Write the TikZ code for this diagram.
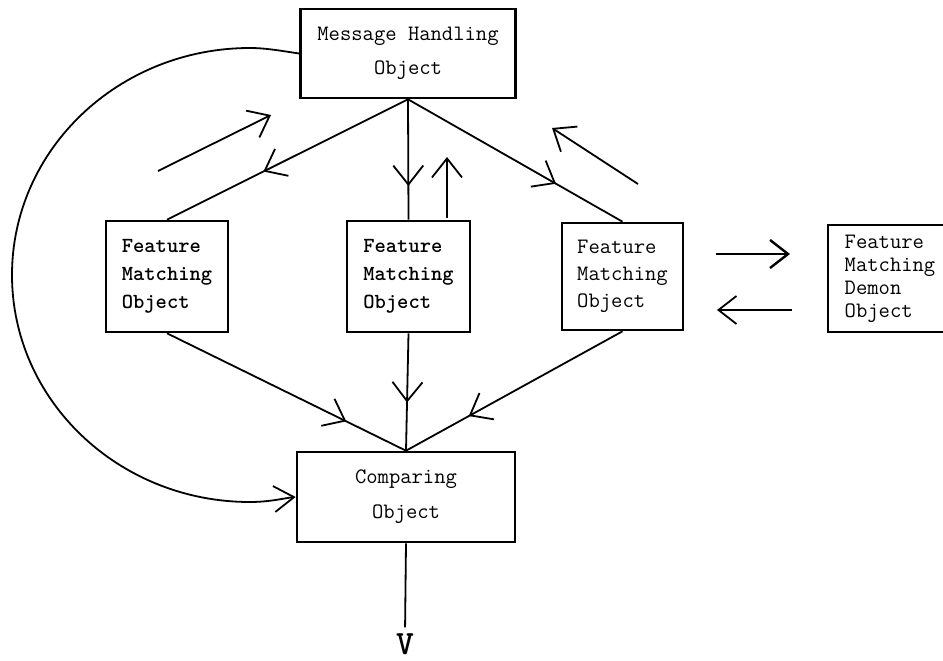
\documentclass[tikz,border=0pt]{standalone}
\usepackage{fontspec}
\usetikzlibrary{arrows.meta,decorations.markings}
\begin{document}
\begin{tikzpicture}[x=1pt,y=-1pt,
  box/.style={draw, line width=2.6pt, inner sep=0pt, align=left, font=\ttfamily\fontsize{22}{28}\selectfont},
  boldbox/.style={box, font=\ttfamily\bfseries\fontsize{21.5}{28}\selectfont},
  conn/.style={line width=1.8pt},
  barb/.tip={Straight Barb[length=19pt,width=30pt]},
  midarrow/.style={postaction={decorate},decoration={markings,mark=at position #1 with {\arrow{barb}}}},
]
\clip (0,0) rectangle (943,661);
\fill[white] (0,0) rectangle (943,661);

% boxes
\node[box, align=center, minimum width=215pt, minimum height=89pt, font=\ttfamily\fontsize{22}{34}\selectfont] (mho) at (408,53.5) {Message Handling\\Object};
\node[boldbox, minimum width=122pt, minimum height=111pt] (lfm) at (167,276.5) {Feature\\Matching\\Object};
\node[boldbox, minimum width=123pt, minimum height=111pt] (mfm) at (408.5,276.5) {Feature\\Matching\\Object};
\node[box, minimum width=121pt, minimum height=107pt, font=\ttfamily\fontsize{22}{27}\selectfont] (rfm) at (622.5,276.5) {Feature\\Matching\\Object};
\node[box, minimum width=124pt, minimum height=107pt, font=\ttfamily\fontsize{22}{23}\selectfont] (dem) at (890,278.5) {Feature\\Matching\\Demon\\Object};
\node[box, align=center, minimum width=218pt, minimum height=90pt, font=\ttfamily\fontsize{22}{35}\selectfont] (comp) at (406,497) {Comparing\\Object};
\node[inner sep=0pt, font=\ttfamily\bfseries\fontsize{34}{34}\selectfont] (v) at (405,644) {V};

% connectors from message handling object
\draw[conn,midarrow=0.6] (mho.south) -- (lfm.north);
\draw[conn,midarrow=0.72] (mho.south) -- (mfm.north);
\draw[conn,midarrow=0.69] (mho.south) -- (rfm.north);
% connectors to comparing object
\draw[conn,midarrow=0.75] (lfm.south) -- (comp.north);
\draw[conn,midarrow=0.59] (mfm.south) -- (comp.north);
\draw[conn,midarrow=0.71] (rfm.south) -- (comp.north);
% output
\draw[conn, shorten >=6pt] (comp.south) -- (v.north);

% free return arrows
\coordinate (f1s) at (158,171);
\coordinate (f1e) at (271,115);
\coordinate (f2s) at (447,218);
\coordinate (f2e) at (447,157);
\coordinate (f3s) at (638,184);
\coordinate (f3e) at (552,128);
\draw[conn,-{barb}] (f1s) -- (f1e);
\draw[conn,-{barb}] (f2s) -- (f2e);
\draw[conn,-{barb}] (f3s) -- (f3e);

% demon arrows
\coordinate (d1s) at (716,254);
\coordinate (d1e) at (790,254);
\coordinate (d2s) at (792,310);
\coordinate (d2e) at (717,310);
\draw[line width=2.4pt,-{Straight Barb[length=18pt,width=28pt]}] (d1s) -- (d1e);
\draw[conn,-{Straight Barb[length=18pt,width=28pt]}] (d2s) -- (d2e);

% big loop from message handling to comparing
\coordinate (atop) at (250,48);
\coordinate (aleft) at (12,275);
\coordinate (abot) at (250,502);
\draw[conn,-{Straight Barb[length=20pt,width=26pt]}] (mho.west) .. controls (282,51) and (266,48) .. (atop)
  .. controls (118.6,48) and (12,149.6) .. (aleft)
  .. controls (12,400.4) and (118.6,502) .. (abot)
  .. controls (270,502) and (285,498) .. (comp.west);
\end{tikzpicture}
\end{document}
